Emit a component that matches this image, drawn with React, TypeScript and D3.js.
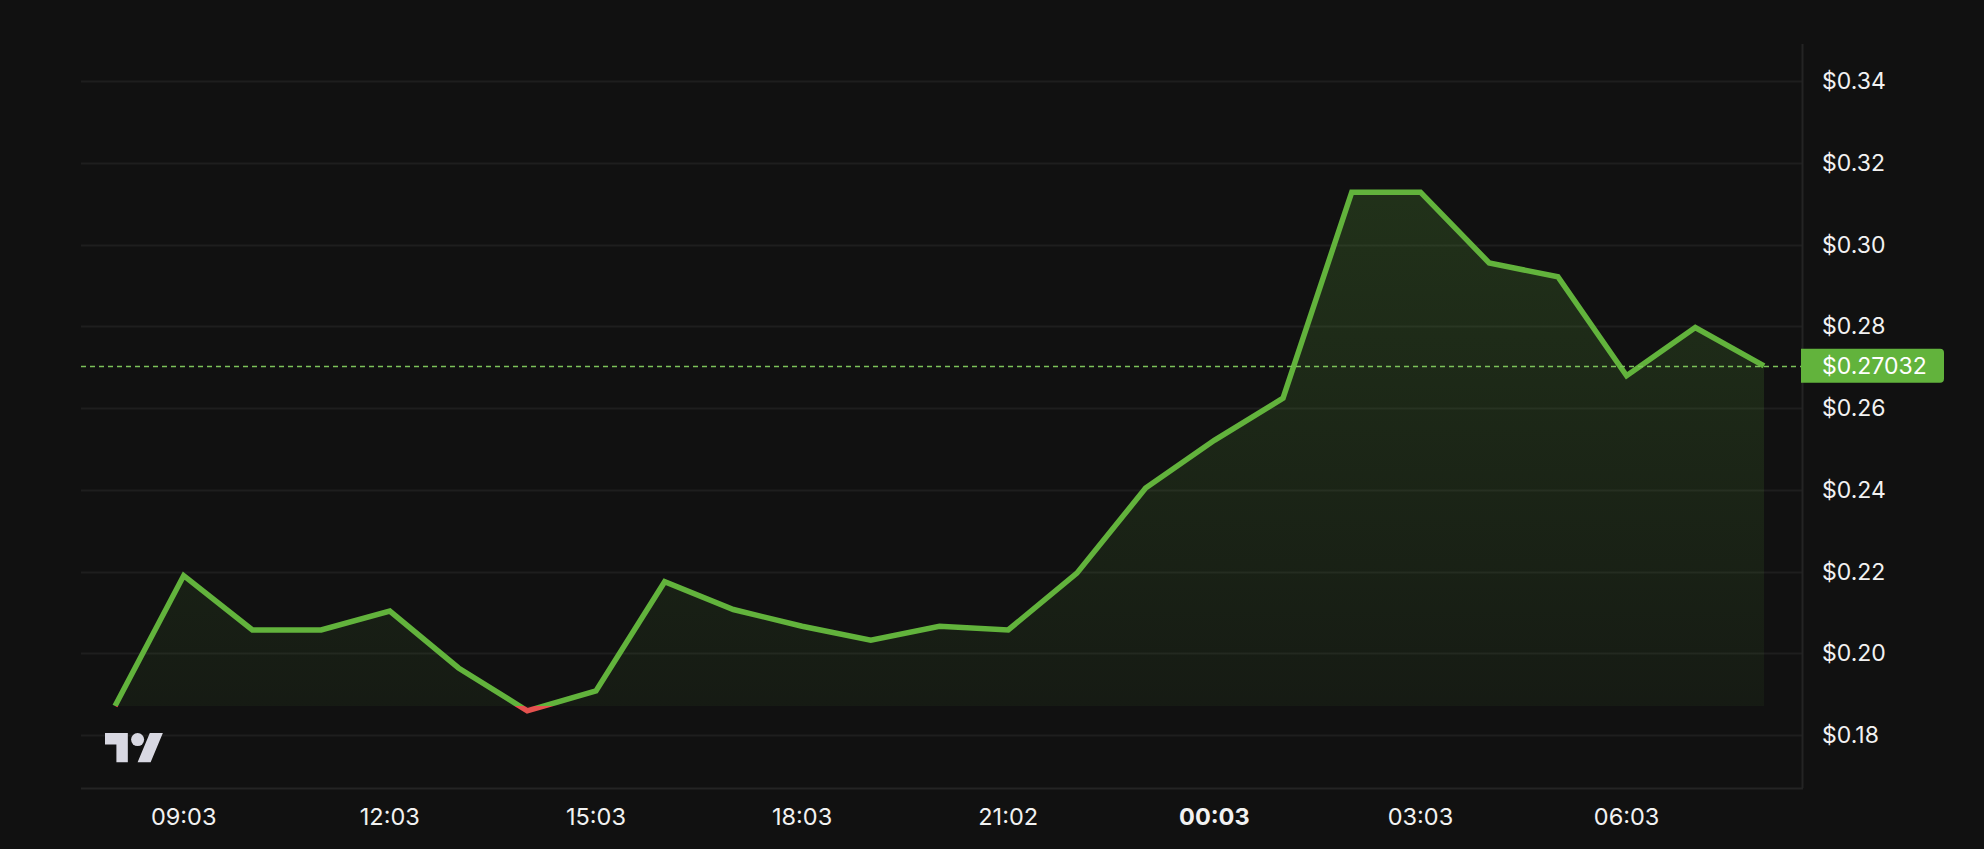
import React, { useEffect, useRef } from 'react';
import * as d3 from 'd3';

// hourly closes, 08:03 -> 08:03 next day
const times = [
  '08:03', '09:03', '10:03', '11:03', '12:03', '13:03', '14:03', '15:03', '16:03',
  '17:03', '18:03', '19:03', '20:03', '21:02', '22:03', '23:03', '00:03', '01:03',
  '02:03', '03:03', '04:03', '05:03', '06:03', '07:03', '08:03',
];
const prices = [
  0.1871, 0.2190, 0.2057, 0.2057, 0.2103, 0.1964, 0.1859, 0.1908, 0.2175,
  0.2107, 0.2066, 0.2032, 0.2066, 0.2057, 0.2196, 0.2404, 0.2521, 0.2624,
  0.3128, 0.3128, 0.2955, 0.2921, 0.2679, 0.2797, 0.27032,
];
const yTicks = [0.18, 0.2, 0.22, 0.24, 0.26, 0.28, 0.3, 0.32, 0.34];
const xTickIdx = [1, 4, 7, 10, 13, 16, 19, 22];
const boldTick = '00:03';
const lastPrice = 0.27032;

const W = 1984;
const H = 849;

const App: React.FC = () => {
  const svgRef = useRef<SVGSVGElement>(null);

  useEffect(() => {
    if (!svgRef.current) return;
    const svg = d3.select(svgRef.current);
    svg.selectAll('*').remove();

    const font = 'Inter, "Noto Sans", sans-serif';
    const green = '#62b33c';
    const red = '#e5524f';
    const grid = '#1e1e1e';

    const plotLeft = 81;
    const plotRight = 1802;
    const plotTop = 44;
    const plotBottom = 788;

    const x = d3.scaleLinear().domain([0, times.length - 1]).range([115, 1764]);
    const y = d3.scaleLinear().domain([0.18, 0.34]).range([735, 81]);
    const base = prices[0];
    const baseY = y(base);

    svg.append('rect').attr('width', W).attr('height', H).attr('fill', '#111111');

    // grid
    svg.append('g')
      .selectAll('line')
      .data(yTicks)
      .enter()
      .append('line')
      .attr('x1', plotLeft)
      .attr('x2', plotRight)
      .attr('y1', d => Math.round(y(d)) + 0.5)
      .attr('y2', d => Math.round(y(d)) + 0.5)
      .attr('stroke', grid)
      .attr('stroke-width', 2);

    // axis borders
    svg.append('line')
      .attr('x1', plotRight + 0.5).attr('x2', plotRight + 0.5)
      .attr('y1', plotTop).attr('y2', plotBottom)
      .attr('stroke', '#242424').attr('stroke-width', 2);
    svg.append('line')
      .attr('x1', plotLeft).attr('x2', plotRight + 1)
      .attr('y1', plotBottom + 0.5).attr('y2', plotBottom + 0.5)
      .attr('stroke', '#242424').attr('stroke-width', 2);

    const defs = svg.append('defs');
    defs.append('clipPath').attr('id', 'clip-up')
      .append('rect').attr('x', 0).attr('y', 0).attr('width', W).attr('height', baseY);
    defs.append('clipPath').attr('id', 'clip-down')
      .append('rect').attr('x', 0).attr('y', baseY).attr('width', W).attr('height', H - baseY);

    const gUp = defs.append('linearGradient')
      .attr('id', 'fill-up')
      .attr('gradientUnits', 'userSpaceOnUse')
      .attr('x1', 0).attr('x2', 0)
      .attr('y1', y(d3.max(prices)!)).attr('y2', baseY);
    gUp.append('stop').attr('offset', '0%').attr('stop-color', green).attr('stop-opacity', 0.2);
    gUp.append('stop').attr('offset', '100%').attr('stop-color', green).attr('stop-opacity', 0.06);

    const area = d3.area<number>()
      .x((_, i) => x(i))
      .y0(baseY)
      .y1(d => y(d));

    svg.append('path')
      .datum(prices)
      .attr('d', area)
      .attr('fill', 'url(#fill-up)')
      .attr('clip-path', 'url(#clip-up)');
    svg.append('path')
      .datum(prices)
      .attr('d', area)
      .attr('fill', red)
      .attr('fill-opacity', 0.08)
      .attr('clip-path', 'url(#clip-down)');

    const line = d3.line<number>()
      .x((_, i) => x(i))
      .y(d => y(d));

    svg.append('path')
      .datum(prices)
      .attr('d', line)
      .attr('fill', 'none')
      .attr('stroke', green)
      .attr('stroke-width', 5.5)
      .attr('stroke-linejoin', 'miter')
      .attr('clip-path', 'url(#clip-up)');
    svg.append('path')
      .datum(prices)
      .attr('d', line)
      .attr('fill', 'none')
      .attr('stroke', red)
      .attr('stroke-width', 5.5)
      .attr('stroke-linejoin', 'miter')
      .attr('clip-path', 'url(#clip-down)');

    // last price line
    const lpY = Math.round(y(lastPrice)) + 0.5;
    svg.append('line')
      .attr('x1', plotLeft).attr('x2', plotRight)
      .attr('y1', lpY).attr('y2', lpY)
      .attr('stroke', '#7cc25a')
      .attr('stroke-width', 1.5)
      .attr('stroke-dasharray', '5 4');

    // y labels
    svg.append('g')
      .selectAll('text')
      .data(yTicks)
      .enter()
      .append('text')
      .attr('x', 1822)
      .attr('y', d => y(d))
      .attr('dominant-baseline', 'central')
      .style('font-family', font)
      .style('font-size', '23px')
      .style('fill', '#f2f2f2')
      .text(d => `$${d.toFixed(2)}`);

    // last price tag
    const tagH = 34;
    const tagW = 143;
    const tx = plotRight - 1;
    const ty = y(lastPrice) - tagH / 2;
    const r = 4;
    svg.append('path')
      .attr('d', `M${tx},${ty}H${tx + tagW - r}Q${tx + tagW},${ty} ${tx + tagW},${ty + r}V${ty + tagH - r}Q${tx + tagW},${ty + tagH} ${tx + tagW - r},${ty + tagH}H${tx}Z`)
      .attr('fill', green);
    svg.append('text')
      .attr('x', 1822)
      .attr('y', y(lastPrice))
      .attr('dominant-baseline', 'central')
      .style('font-family', font)
      .style('font-size', '23px')
      .style('fill', '#ffffff')
      .text(`$${lastPrice.toFixed(5)}`);

    // x labels
    svg.append('g')
      .selectAll('text')
      .data(xTickIdx)
      .enter()
      .append('text')
      .attr('x', d => x(d))
      .attr('y', 816)
      .attr('text-anchor', 'middle')
      .attr('dominant-baseline', 'central')
      .style('font-family', font)
      .style('font-size', '23.5px')
      .style('font-weight', d => (times[d] === boldTick ? 700 : 400))
      .style('fill', '#f2f2f2')
      .text(d => times[d]);

    // TradingView logo
    const logo = svg.append('g')
      .attr('transform', 'translate(105,726.5) scale(1.63)')
      .attr('fill', '#d8d8e2');
    logo.append('path').attr('d', 'M14 22H7V11H0V4h14v18zM28 22h-8l7.5-18h8L28 22z');
    logo.append('circle').attr('cx', 20).attr('cy', 8).attr('r', 4);
  }, []);

  return (
    <svg
      ref={svgRef}
      width={W}
      height={H}
      style={{ position: 'absolute', left: 0, top: 0, display: 'block' }}
    />
  );
};

export default App;
